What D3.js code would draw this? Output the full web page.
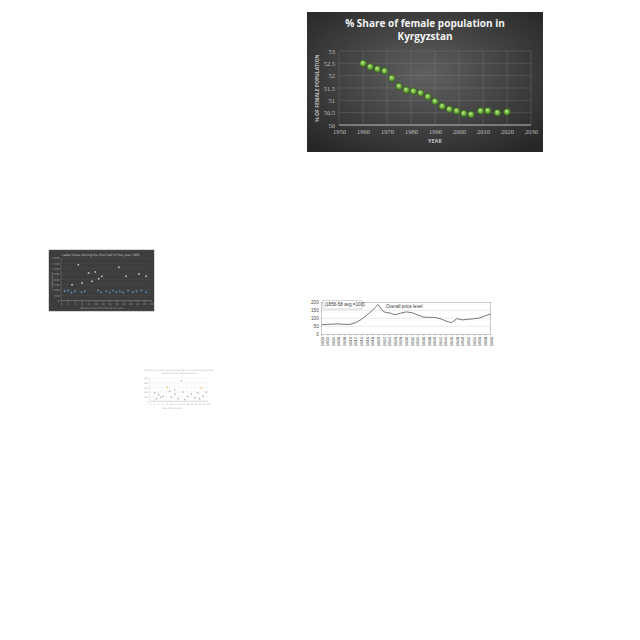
<!DOCTYPE html>
<html><head><meta charset="utf-8">
<script src="https://cdn.jsdelivr.net/npm/d3@7/dist/d3.min.js"></script>
<style>html,body{margin:0;padding:0;background:#fff;}svg{display:block;}</style>
</head><body>
<svg id="c" width="640" height="640"></svg>
<script>
// ---------- Chart 1: % Share of female population in Kyrgyzstan ----------
const femaleYears = [1960,1963,1966,1969,1972,1975,1978,1981,1984,1987,1990,1993,1996,1999,2002,2005,2009,2012,2016,2020];
const femaleShare = [52.5,52.36,52.27,52.19,51.9,51.57,51.42,51.37,51.3,51.15,50.96,50.76,50.64,50.57,50.47,50.43,50.57,50.58,50.5,50.53];
const femaleXTicks = [1950,1960,1970,1980,1990,2000,2010,2020,2030];
const femaleYTicks = [50,50.5,51,51.5,52,52.5,53];

// ---------- Chart 2: small dark scatter ----------
const labourWhiteX = [5.0,16.7,8.0,9.9,10.9,11.8,18.8,22.5,24.6,3.2,6.1,9.0];
const labourWhiteY = [3370,3130,2600,2690,2060,2290,2290,2500,2290,1500,1660,1820];
const labourBlueX = [1.1,2.0,3.0,4.0,5.9,6.9,10.7,11.6,13.1,14.1,15.0,16.0,17.0,17.9,19.4,20.8,21.8,23.2,24.6];
const labourBlueY = [880,950,760,880,800,880,950,800,880,760,950,800,880,760,950,800,880,950,800];
const labourXTicks = [0,2,4,6,8,10,12,14,16,18,20,22,24,26];
const labourYTicks = [0,500,1000,1500,2000,2500,3000,3500,4000];

// ---------- Chart 3: Overall price level ----------
const priceYears = [1800,1802,1804,1806,1808,1810,1812,1814,1816,1818,1820,1822,1824,1826,1828,1830,1832,1834,1836,1838,1840,1842,1844,1846,1848,1850,1852,1854,1856,1858,1860];
const priceIndex = [60,62,64,65,62,62,72,92,120,150,186,140,134,122,132,140,135,122,108,106,106,98,84,72,98,90,94,97,102,115,127];
const priceYTicks = [0,50,100,150,200];

// ---------- Chart 4: small white scatter ----------
const ordersGreyX = [2.4,4.3,6.4,9.6,10.4,12.3,13.6,15.2,16.0,18.4,20.0,21.6,23.2,25.6,27.2,3.2,5.3,16.8,24.0,12.0];
const ordersGreyY = [178,142,107,215,86,157,56,442,200,107,157,71,178,107,200,56,86,34,56,249];
const ordersOrangeX = [8.5,24.8];
const ordersOrangeY = [300,285];
const ordersXTicks = [0,2,4,6,8,10,12,14,16,18,20,22,24,26,28];
const ordersYTicks = [0,100,200,300,400,500];

const svg = d3.select("#c");
const defs = svg.append("defs");

// ===== Chart 1 =====
(function(){
  const box = {x:307, y:12, w:236, h:140};
  const bg = defs.append("radialGradient").attr("id","bg1").attr("cx","50%").attr("cy","45%").attr("r","70%");
  bg.append("stop").attr("offset","0%").attr("stop-color","#606060");
  bg.append("stop").attr("offset","100%").attr("stop-color","#262626");
  const mk = defs.append("radialGradient").attr("id","mk1").attr("cx","50%").attr("cy","50%").attr("r","50%").attr("fx","40%").attr("fy","35%");
  mk.append("stop").attr("offset","0%").attr("stop-color","#cdeea6");
  mk.append("stop").attr("offset","45%").attr("stop-color","#84c150");
  mk.append("stop").attr("offset","100%").attr("stop-color","#477f24");

  const g = svg.append("g");
  g.append("rect").attr("x",box.x).attr("y",box.y).attr("width",box.w).attr("height",box.h).attr("fill","url(#bg1)");

  const x = d3.scaleLinear().domain([1950,2030]).range([339,531]);
  const y = d3.scaleLinear().domain([50,53]).range([125,51]);

  g.append("g").selectAll("line").data(femaleYTicks.slice(1)).join("line")
    .attr("x1",x(1950)).attr("x2",x(2030)).attr("y1",d=>y(d)).attr("y2",d=>y(d))
    .attr("stroke","#9a9a9a").attr("stroke-opacity",0.4).attr("stroke-width",0.6);
  g.append("g").selectAll("line").data(femaleXTicks).join("line")
    .attr("x1",d=>x(d)).attr("x2",d=>x(d)).attr("y1",y(53)).attr("y2",y(50))
    .attr("stroke","#9a9a9a").attr("stroke-opacity",0.4).attr("stroke-width",0.6);
  g.append("line").attr("x1",x(1950)).attr("x2",x(2030)).attr("y1",y(50)).attr("y2",y(50))
    .attr("stroke","#bdbdbd").attr("stroke-width",1);

  const xa = g.append("g").attr("transform",`translate(0,${y(50)})`)
    .call(d3.axisBottom(x).tickValues(femaleXTicks).tickFormat(d3.format("d")).tickSize(0).tickPadding(4));
  const ya = g.append("g").attr("transform",`translate(${x(1950)},0)`)
    .call(d3.axisLeft(y).tickValues(femaleYTicks).tickFormat(d=>String(d)).tickSize(0).tickPadding(4));
  [xa,ya].forEach(a=>{ a.select(".domain").remove();
    a.selectAll("text").attr("fill","#bdbdbd").style("font-family","Liberation Serif").style("font-size","6.5px"); });

  g.append("text").attr("x",425).attr("y",27).attr("text-anchor","middle").attr("fill","#f2f2f2")
    .style("font-family","Open Sans").style("font-weight","bold").style("font-size","10px").text("% Share of female population in");
  g.append("text").attr("x",425).attr("y",40).attr("text-anchor","middle").attr("fill","#f2f2f2")
    .style("font-family","Open Sans").style("font-weight","bold").style("font-size","10px").text("Kyrgyzstan");
  g.append("text").attr("x",x(1990)).attr("y",143).attr("text-anchor","middle").attr("fill","#c0c0c0")
    .style("font-family","Open Sans").style("font-weight","bold").style("font-size","5.5px").text("YEAR");
  g.append("text").attr("transform",`translate(319,${y(51.5)}) rotate(-90)`).attr("text-anchor","middle").attr("fill","#c0c0c0")
    .style("font-family","Open Sans").style("font-weight","bold").style("font-size","5px").text("% OF FEMALE POPULATION");

  g.append("g").selectAll("circle").data(femaleYears.map((d,i)=>[d,femaleShare[i]])).join("circle")
    .attr("cx",d=>x(d[0])).attr("cy",d=>y(d[1])).attr("r",3.4)
    .attr("fill","url(#mk1)").attr("stroke","#2e5418").attr("stroke-width",0.5);
})();

// ===== Chart 2 =====
(function(){
  const g = svg.append("g");
  g.append("rect").attr("x",49).attr("y",250).attr("width",105).attr("height",61).attr("fill","#3d3d3d").attr("stroke","#595959").attr("stroke-width",0.5);
  const x = d3.scaleLinear().domain([0,26]).range([61,151]);
  const y = d3.scaleLinear().domain([0,4000]).range([300.7,258]);
  g.append("g").selectAll("line").data(labourYTicks).join("line")
    .attr("x1",61).attr("x2",151).attr("y1",d=>y(d)).attr("y2",d=>y(d))
    .attr("stroke","#626262").attr("stroke-width",0.4).attr("stroke-dasharray","1,1");
  g.append("line").attr("x1",61).attr("x2",151).attr("y1",y(0)).attr("y2",y(0)).attr("stroke","#858585").attr("stroke-width",0.6);
  g.append("line").attr("x1",61).attr("x2",61).attr("y1",y(0)).attr("y2",y(4000)).attr("stroke","#757575").attr("stroke-width",0.5);
  const xa = g.append("g").attr("transform",`translate(0,${y(0)})`)
    .call(d3.axisBottom(x).tickValues(labourXTicks).tickSize(1).tickPadding(1.5));
  const ya = g.append("g").attr("transform",`translate(61,0)`)
    .call(d3.axisLeft(y).tickValues(labourYTicks).tickSize(0).tickPadding(1.5));
  [xa,ya].forEach(a=>{ a.select(".domain").remove(); a.selectAll("line").attr("stroke","#888");
    a.selectAll("text").attr("fill","#a0a0a0").style("font-family","DejaVu Sans").style("font-size","2.6px"); });
  g.append("text").attr("x",101).attr("y",255.5).attr("text-anchor","middle").attr("fill","#c0c0c0")
    .style("font-family","DejaVu Sans").style("font-size","3.2px").text("Labor index during the first half of the year 1995");
  g.append("text").attr("x",102).attr("y",309.3).attr("text-anchor","middle").attr("fill","#9a9a9a")
    .style("font-family","DejaVu Sans").style("font-size","2.6px").text("Weeks of the first half of the year");
  g.append("text").attr("transform",`translate(52.5,280) rotate(-90)`).attr("text-anchor","middle").attr("fill","#9a9a9a")
    .style("font-family","DejaVu Sans").style("font-size","2.6px").text("Index value");
  g.append("g").selectAll("circle").data(labourWhiteX.map((d,i)=>[d,labourWhiteY[i]])).join("circle")
    .attr("cx",d=>x(d[0])).attr("cy",d=>y(d[1])).attr("r",1.0).attr("fill","#b4b4b4");
  g.append("g").selectAll("circle").data(labourBlueX.map((d,i)=>[d,labourBlueY[i]])).join("circle")
    .attr("cx",d=>x(d[0])).attr("cy",d=>y(d[1])).attr("r",1.0).attr("fill","#5a86b5");
})();

// ===== Chart 3 =====
(function(){
  const g = svg.append("g");
  const x = d3.scalePoint().domain(priceYears).range([321.7,490.7]);
  const y = d3.scaleLinear().domain([0,200]).range([334.3,302.3]);
  g.append("g").selectAll("line").data([50,100,150]).join("line")
    .attr("x1",321.7).attr("x2",490.7).attr("y1",d=>y(d)).attr("y2",d=>y(d))
    .attr("stroke","#d4d4d4").attr("stroke-width",0.5);
  g.append("rect").attr("x",321.7).attr("y",y(200)).attr("width",169).attr("height",y(0)-y(200))
    .attr("fill","none").attr("stroke","#a6a6a6").attr("stroke-width",0.6);
  const ya = g.append("g").attr("transform","translate(321.7,0)")
    .call(d3.axisLeft(y).tickValues(priceYTicks).tickSize(1).tickPadding(2));
  const xa = g.append("g").attr("transform",`translate(0,${y(0)})`)
    .call(d3.axisBottom(x).tickSize(1.5).tickPadding(1));
  [xa,ya].forEach(a=>{ a.select(".domain").remove(); a.selectAll("line").attr("stroke","#888").attr("stroke-width",0.4);
    a.selectAll("text").attr("fill","#444").style("font-family","Liberation Sans").style("font-size","4.6px"); });
  xa.selectAll("text").attr("transform","rotate(-90)").attr("text-anchor","end").attr("x",-2.5).attr("y",0).attr("dy","0.32em")
    .style("font-size","4.2px");
  g.append("path").datum(priceYears.map((d,i)=>[d,priceIndex[i]]))
    .attr("d",d3.line().x(d=>x(d[0])).y(d=>y(d[1])))
    .attr("fill","none").attr("stroke","#555").attr("stroke-width",0.8);
  g.append("rect").attr("x",323).attr("y",300.2).attr("width",39).attr("height",8.8)
    .attr("fill","#fff").attr("stroke","#9a9a9a").attr("stroke-width",0.4);
  g.append("text").attr("x",324.5).attr("y",306.2).attr("fill","#333")
    .style("font-family","Liberation Sans").style("font-size","4.6px").text("(1856-58 avg.=100)");
  g.append("text").attr("x",386).attr("y",308).attr("fill","#333")
    .style("font-family","Liberation Sans").style("font-size","4.6px").text("Overall price level");
})();

// ===== Chart 4 =====
(function(){
  const g = svg.append("g");
  const x = d3.scaleLinear().domain([0,28]).range([149.7,208]);
  const y = d3.scaleLinear().domain([0,500]).range([401.3,378]);
  g.append("g").selectAll("line").data(ordersYTicks).join("line")
    .attr("x1",149.7).attr("x2",208).attr("y1",d=>y(d)).attr("y2",d=>y(d))
    .attr("stroke","#e8e8e8").attr("stroke-width",0.4);
  g.append("g").selectAll("line").data(ordersXTicks).join("line")
    .attr("x1",d=>x(d)).attr("x2",d=>x(d)).attr("y1",y(0)).attr("y2",y(500))
    .attr("stroke","#efefef").attr("stroke-width",0.3);
  g.append("line").attr("x1",149.7).attr("x2",208).attr("y1",y(0)).attr("y2",y(0)).attr("stroke","#bdbdbd").attr("stroke-width",0.5);
  g.append("line").attr("x1",149.7).attr("x2",149.7).attr("y1",y(0)).attr("y2",y(500)).attr("stroke","#cfcfcf").attr("stroke-width",0.4);
  const xa = g.append("g").attr("transform",`translate(0,${y(0)})`)
    .call(d3.axisBottom(x).tickValues(ordersXTicks).tickSize(0).tickPadding(2));
  const ya = g.append("g").attr("transform","translate(149.7,0)")
    .call(d3.axisLeft(y).tickValues(ordersYTicks).tickSize(0).tickPadding(1.5));
  [xa,ya].forEach(a=>{ a.select(".domain").remove();
    a.selectAll("text").attr("fill","#a0a0a0").style("font-family","DejaVu Sans").style("font-size","2.2px"); });
  g.append("text").attr("x",179).attr("y",371).attr("text-anchor","middle").attr("fill","#b0b0b0")
    .style("font-family","DejaVu Sans").style("font-size","2.3px").text("Number of orders received per day during the month at the");
  g.append("text").attr("x",179).attr("y",373.8).attr("text-anchor","middle").attr("fill","#b0b0b0")
    .style("font-family","DejaVu Sans").style("font-size","2.3px").text("selected store (sample period)");
  g.append("text").attr("x",172).attr("y",408.5).attr("text-anchor","middle").attr("fill","#a8a8a8")
    .style("font-family","DejaVu Sans").style("font-size","2.2px").text("Day of the month");
  g.append("g").selectAll("circle").data(ordersGreyX.map((d,i)=>[d,ordersGreyY[i]])).join("circle")
    .attr("cx",d=>x(d[0])).attr("cy",d=>y(d[1])).attr("r",0.8).attr("fill","#a6a6a6");
  g.append("g").selectAll("circle").data(ordersOrangeX.map((d,i)=>[d,ordersOrangeY[i]])).join("circle")
    .attr("cx",d=>x(d[0])).attr("cy",d=>y(d[1])).attr("r",0.8).attr("fill","#f2b35c");
})();
</script>
</body></html>
